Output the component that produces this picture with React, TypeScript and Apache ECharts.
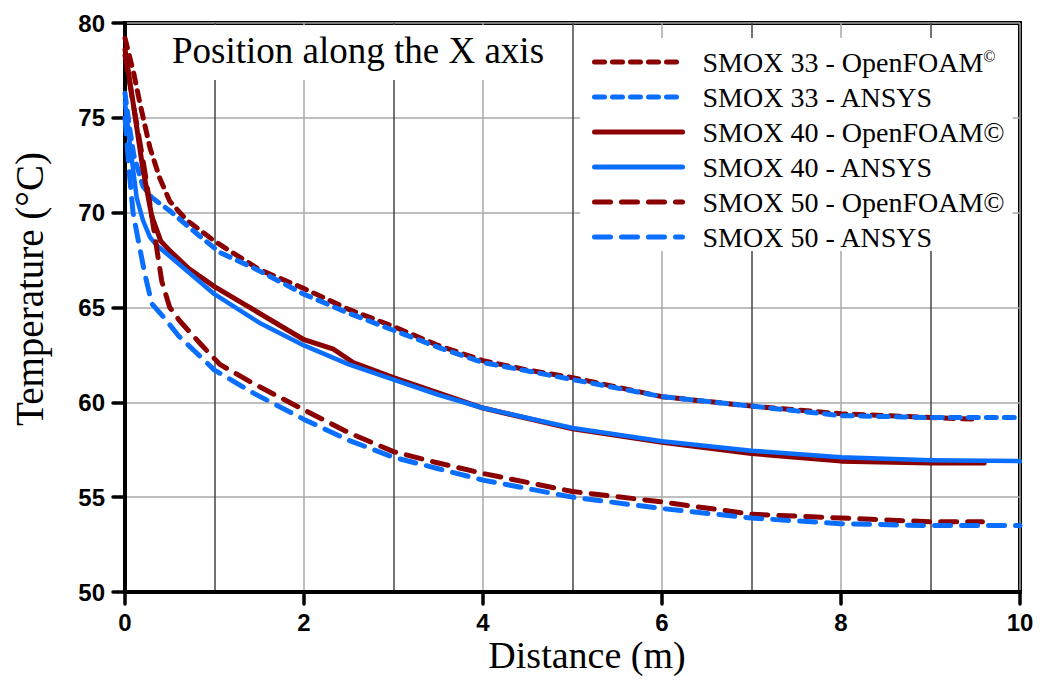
import React, { useEffect, useRef } from "react";
import * as echarts from "echarts";

const seriesNames = [
  "SMOX 33 - OpenFOAM©",
  "SMOX 33 - ANSYS",
  "SMOX 40 - OpenFOAM©",
  "SMOX 40 - ANSYS",
  "SMOX 50 - OpenFOAM©",
  "SMOX 50 - ANSYS",
];

const xTicks = [0, 2, 4, 6, 8, 10];
const yTicks = [50, 55, 60, 65, 70, 75, 80];

const smox33OfX = [0, 0.1, 0.17, 0.28, 0.39, 0.5, 0.69, 1.0, 1.5, 2.0, 2.5, 3.0, 3.5, 4.0, 4.5, 5.0, 6.0, 7.0, 8.0, 9.0, 9.55];
const smox33OfY = [79.2, 77.3, 75.7, 73.4, 71.8, 70.6, 69.6, 68.5, 67.0, 66.0, 64.9, 64.0, 63.0, 62.2, 61.7, 61.3, 60.3, 59.8, 59.4, 59.2, 59.1];

const smox33AnX = [0, 0.05, 0.1, 0.2, 0.3, 0.5, 0.8, 1.06, 1.43, 2.0, 2.5, 3.0, 3.5, 4.0, 5.0, 6.0, 7.0, 8.0, 9.0, 10.0];
const smox33AnY = [76.3, 74.5, 73.0, 71.4, 70.8, 70.1, 68.9, 67.9, 67.1, 65.7, 64.7, 63.8, 62.9, 62.1, 61.2, 60.3, 59.8, 59.3, 59.2, 59.2];

const smox40OfX = [0, 0.1, 0.2, 0.3, 0.4, 0.5, 0.7, 1.0, 1.43, 2.0, 2.33, 2.55, 3.0, 3.5, 4.0, 5.0, 6.0, 7.0, 8.0, 9.0, 9.6];
const smox40OfY = [78.6, 75.5, 72.3, 69.8, 68.5, 68.0, 67.1, 66.1, 64.9, 63.3, 62.8, 62.1, 61.3, 60.5, 59.7, 58.6, 57.9, 57.3, 56.9, 56.8, 56.8];

const smox40AnX = [0, 0.05, 0.13, 0.2, 0.28, 0.35, 0.5, 1.0, 1.5, 2.0, 2.5, 3.0, 3.5, 4.0, 5.0, 6.0, 7.0, 8.0, 9.0, 10.0];
const smox40AnY = [75.8, 73.8, 70.8, 69.6, 68.7, 68.3, 67.7, 65.7, 64.2, 63.0, 62.0, 61.2, 60.4, 59.7, 58.65, 57.95, 57.45, 57.1, 56.95, 56.9];

const smox50OfX = [0, 0.1, 0.2, 0.3, 0.41, 0.5, 0.61, 0.84, 1.06, 1.43, 2.0, 2.5, 3.0, 3.5, 4.0, 5.0, 6.0, 7.0, 8.0, 9.0, 9.58];
const smox50OfY = [78.3, 75.5, 72.8, 69.8, 66.4, 65.0, 64.3, 63.1, 62.0, 61.0, 59.6, 58.4, 57.4, 56.8, 56.25, 55.3, 54.75, 54.1, 53.9, 53.7, 53.7];

const smox50AnX = [0, 0.05, 0.09, 0.15, 0.22, 0.3, 0.43, 0.6, 0.8, 1.0, 1.43, 2.0, 2.5, 3.0, 3.5, 4.0, 5.0, 6.0, 7.0, 8.0, 9.0, 10.0];
const smox50AnY = [75.0, 72.0, 70.0, 68.5, 66.8, 65.2, 64.5, 63.5, 62.6, 61.7, 60.5, 59.1, 58.0, 57.1, 56.5, 55.9, 55.0, 54.4, 53.9, 53.6, 53.5, 53.5];

const RED = "#8B0000";
const BLUE = "#0A6EFF";

const zip = (xs: number[], ys: number[]) => xs.map((x, i) => [x, ys[i]]);

export default function App() {
  const ref = useRef<HTMLDivElement>(null);
  useEffect(() => {
    if (!ref.current) return;
    const chart = echarts.init(ref.current, null, { renderer: "svg" });
    const serif = "'Liberation Serif', 'Times New Roman', serif";
    const mk = (name: string, xs: number[], ys: number[], color: string, type: any, width: number) => ({
      name,
      type: "line",
      data: zip(xs, ys),
      symbol: "none",
      showSymbol: false,
      smooth: false,
      lineStyle: { color, width, type, cap: "round", join: "round" },
      itemStyle: { color },
      z: 3,
    });
    chart.setOption({
      animation: false,
      backgroundColor: "#fff",
      grid: {
        left: 125,
        right: 26,
        top: 23,
        bottom: 92,
        show: true,
        borderColor: "#000",
        borderWidth: 4,
        backgroundColor: "transparent",
      },
      legend: {
        orient: "vertical",
        left: 580,
        top: 38,
        data: seriesNames,
        backgroundColor: "#fff",
        padding: [10, 8, 0, 12],
        itemWidth: 88,
        itemHeight: 28,
        itemGap: 7,
        selectedMode: false,
        itemStyle: { opacity: 0, borderWidth: 0 },
        lineStyle: { width: 5 },
        formatter: (name: string) =>
          name === seriesNames[0] ? "{a|SMOX 33 - OpenFOAM}{s|©}" : name,
        textStyle: {
          fontFamily: serif,
          fontSize: 28,
          lineHeight: 28,
          color: "#000",
          padding: [0, 0, 0, 15],
          rich: {
            a: { fontFamily: serif, fontSize: 28, lineHeight: 28, color: "#000" },
            s: { fontFamily: serif, fontSize: 16, color: "#000", padding: [0, 0, 12, 0] },
          },
        },
        z: 10,
      },
      xAxis: {
        type: "value",
        min: xTicks[0],
        max: xTicks[xTicks.length - 1],
        interval: 2,
        axisLine: { show: true, onZero: false, lineStyle: { color: "#000", width: 4 } },
        axisTick: { show: true, length: 12, lineStyle: { color: "#000", width: 3.5, cap: "round" } },
        axisLabel: {
          margin: 18,
          fontFamily: "'Liberation Sans', Arial, sans-serif",
          fontWeight: "bold",
          fontSize: 24,
          color: "#000",
        },
        splitLine: { show: true, lineStyle: { color: "#a8a8a8", width: 1.5 } },
        minorTick: { show: false, splitNumber: 2 },
        minorSplitLine: { show: true, lineStyle: { color: "#444", width: 1.5 } },
      },
      yAxis: {
        type: "value",
        min: yTicks[0],
        max: yTicks[yTicks.length - 1],
        interval: 5,
        axisLine: { show: true, onZero: false, lineStyle: { color: "#000", width: 4 } },
        axisTick: { show: true, length: 12, lineStyle: { color: "#000", width: 3.5, cap: "round" } },
        axisLabel: {
          margin: 20,
          fontFamily: "'Liberation Sans', Arial, sans-serif",
          fontWeight: "bold",
          fontSize: 24,
          color: "#000",
        },
        splitLine: { show: true, lineStyle: { color: "#a8a8a8", width: 1.5 } },
      },
      graphic: [
        {
          type: "rect",
          shape: { x: 160, y: 25, width: 405, height: 55 },
          style: { fill: "#fff" },
          z: 5,
        },
        {
          type: "text",
          x: 172,
          y: 50.5,
          style: {
            text: "Position along the X axis",
            fontFamily: serif,
            fontSize: 37,
            fill: "#000",
            verticalAlign: "middle",
          },
          z: 6,
        },
        {
          type: "text",
          x: 587,
          y: 655,
          style: {
            text: "Distance (m)",
            fontFamily: serif,
            fontSize: 38,
            fill: "#000",
            align: "center",
            verticalAlign: "middle",
          },
          z: 6,
        },
        {
          type: "text",
          x: 29,
          y: 289,
          rotation: Math.PI / 2,
          style: {
            text: "Temperature (°C)",
            fontFamily: serif,
            fontSize: 39,
            fill: "#000",
            align: "center",
            verticalAlign: "middle",
          },
          z: 6,
        },
      ],
      series: [
        mk(seriesNames[0], smox33OfX, smox33OfY, RED, [10, 8], 5),
        mk(seriesNames[1], smox33AnX, smox33AnY, BLUE, [10, 8], 5),
        mk(seriesNames[2], smox40OfX, smox40OfY, RED, "solid", 5),
        mk(seriesNames[3], smox40AnX, smox40AnY, BLUE, "solid", 4.5),
        mk(seriesNames[4], smox50OfX, smox50OfY, RED, [16, 11], 5),
        mk(seriesNames[5], smox50AnX, smox50AnY, BLUE, [16, 11], 5),
      ],
    });
    return () => chart.dispose();
  }, []);
  return <div ref={ref} style={{ width: 1046, height: 684, margin: -8 }} />;
}
